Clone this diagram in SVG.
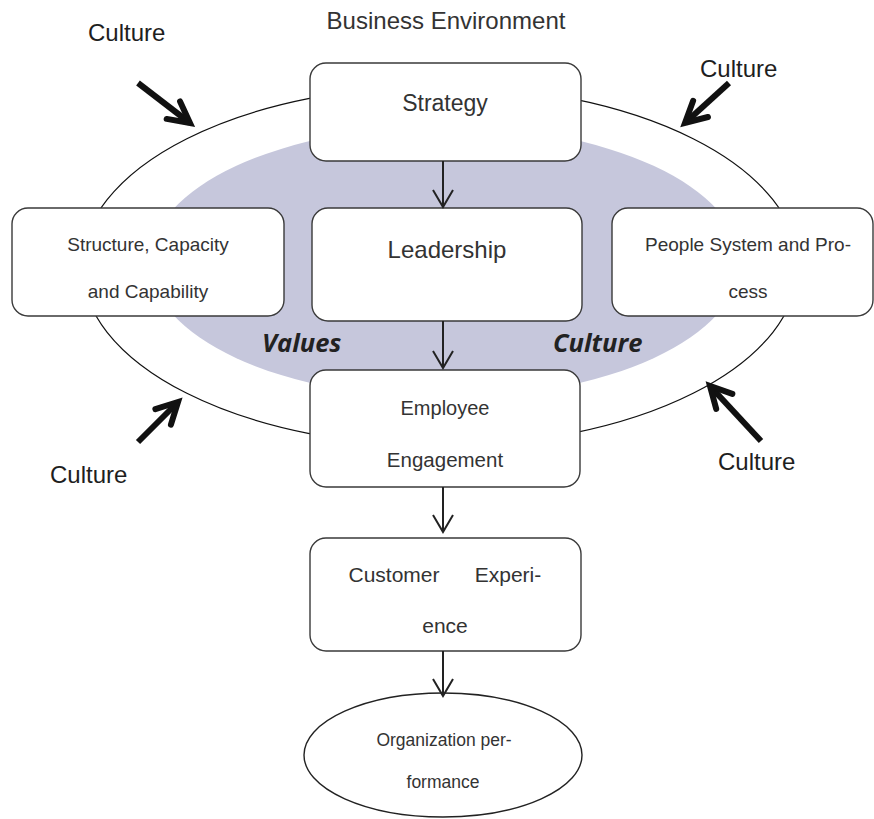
<svg xmlns="http://www.w3.org/2000/svg" width="874" height="819" viewBox="0 0 874 819">
<defs>
<style>
.box{fill:#fff;stroke:#3a3a3a;stroke-width:1.4}
.t{font-family:"Liberation Sans",Arial,sans-serif;fill:#333;text-anchor:middle}
.lbl{font-family:"Liberation Sans",Arial,sans-serif;fill:#1e1e1e;font-size:24px}
.em{font-family:"Open Sans","DejaVu Sans",sans-serif;font-weight:bold;font-style:italic;font-size:25.5px;fill:#222}
.flow{stroke:#222;stroke-width:2;fill:none;marker-end:url(#v)}
.big{stroke:#111;stroke-width:6;fill:none;marker-end:url(#bv)}
</style>
<marker id="v" markerUnits="userSpaceOnUse" markerWidth="26" markerHeight="26" viewBox="-22 -13 26 26" refX="0" refY="0" orient="auto">
<path d="M-17,-10 L0,0 L-17,10" fill="none" stroke="#222" stroke-width="2"/>
</marker>
<marker id="bv" markerUnits="userSpaceOnUse" markerWidth="40" markerHeight="40" viewBox="-30 -20 40 40" refX="0" refY="0" orient="auto">
<path d="M-21,-11 L0,0 L-21,11" fill="none" stroke="#111" stroke-width="6" stroke-linecap="round"/>
</marker>
</defs>
<rect width="874" height="819" fill="#fff"/>
<g id="environment">
<ellipse cx="440" cy="266" rx="358" ry="180" fill="#fff" stroke="#111" stroke-width="1.2"/>
<ellipse cx="445" cy="262" rx="295" ry="136" fill="#c6c7dc"/>
<text class="t" x="446" y="29" font-size="24" fill="#222">Business Environment</text>
</g>
<g id="values-culture">
<text class="em" x="262" y="352">Values</text>
<text class="em" x="553" y="352">Culture</text>
</g>
<g id="culture-labels">
<text class="lbl" x="88" y="41">Culture</text>
<text class="lbl" x="700" y="77">Culture</text>
<text class="lbl" x="50" y="483">Culture</text>
<text class="lbl" x="718" y="470">Culture</text>
</g>
<g id="strategy">
<rect class="box" x="310" y="63" width="271" height="98" rx="16"/>
<text class="t" x="445" y="111" font-size="23">Strategy</text>
</g>
<g id="structure">
<rect class="box" x="12" y="208" width="272" height="108" rx="16"/>
<text class="t" x="148" y="251" font-size="19">Structure, Capacity</text>
<text class="t" x="148" y="298" font-size="19">and Capability</text>
</g>
<g id="leadership">
<rect class="box" x="312" y="208" width="270" height="113" rx="16"/>
<text class="t" x="447" y="258" font-size="24">Leadership</text>
</g>
<g id="people">
<rect class="box" x="612" y="208" width="261" height="108" rx="16"/>
<text class="t" x="748" y="251" font-size="19">People System and Pro-</text>
<text class="t" x="748" y="298" font-size="19">cess</text>
</g>
<g id="employee">
<rect class="box" x="310" y="370" width="270" height="117" rx="16"/>
<text class="t" x="445" y="415" font-size="20">Employee</text>
<text class="t" x="445" y="467" font-size="20.5">Engagement</text>
</g>
<g id="customer">
<rect class="box" x="310" y="538" width="271" height="113" rx="16"/>
<text class="t" x="394" y="582" font-size="21">Customer</text>
<text class="t" x="508" y="582" font-size="21">Experi-</text>
<text class="t" x="445" y="633" font-size="21">ence</text>
</g>
<g id="organization">
<ellipse cx="443" cy="755" rx="139" ry="62" fill="#fff" stroke="#222" stroke-width="1.4"/>
<text class="t" x="444" y="746" font-size="17.5">Organization per-</text>
<text class="t" x="443" y="788" font-size="17.5">formance</text>
</g>
<g id="connectors">
<line class="flow" x1="443" y1="161" x2="443" y2="207"/>
<line class="flow" x1="443" y1="321" x2="443" y2="368"/>
<line class="flow" x1="443" y1="487" x2="443" y2="532"/>
<line class="flow" x1="443" y1="651" x2="443" y2="696"/>
<line class="big" x1="138" y1="83" x2="190" y2="123"/>
<line class="big" x1="729" y1="83" x2="685" y2="123"/>
<line class="big" x1="138" y1="442" x2="178" y2="402"/>
<line class="big" x1="761" y1="441" x2="710" y2="386"/>
</g>
</svg>
